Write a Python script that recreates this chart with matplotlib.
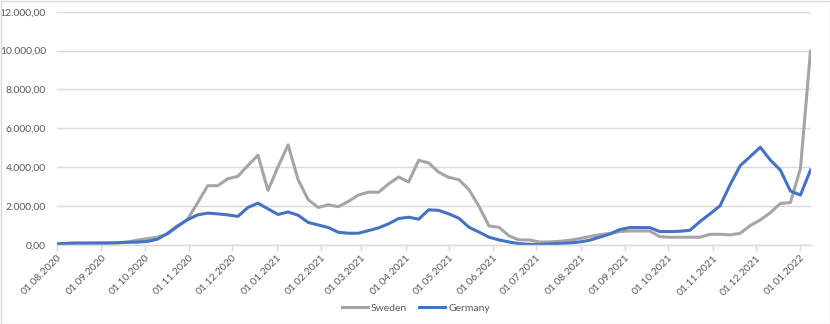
import matplotlib
matplotlib.use("Agg")
import matplotlib.pyplot as plt
import matplotlib.dates as mdates
from matplotlib.ticker import FuncFormatter, MultipleLocator
from matplotlib.patches import Rectangle
import pandas as pd

plt.rcParams['font.family'] = ['Lato', 'DejaVu Sans']

start_date = "2020-08-01"
n_weeks = 76

sweden = [50, 80, 90, 90, 100, 100, 120, 150, 250, 330,
          400, 560, 950, 1330, 2170, 3050, 3050, 3410, 3530, 4090,
          4620, 2810, 4020, 5150, 3360, 2330, 1930, 2070, 1970, 2240,
          2570, 2720, 2710, 3140, 3500, 3240, 4360, 4220, 3740, 3480,
          3360, 2850, 1990, 980, 910, 465, 260, 260, 155, 155,
          190, 240, 330, 430, 530, 590, 690, 720, 720, 720,
          430, 400, 400, 400, 400, 550, 550, 520, 600, 1000,
          1290, 1660, 2140, 2180, 3940, 9970]

germany = [50, 90, 100, 100, 100, 100, 110, 140, 150, 180,
           300, 600, 980, 1300, 1550, 1640, 1600, 1550, 1470, 1930,
           2150, 1860, 1570, 1700, 1530, 1160, 1030, 900, 655, 605,
           605, 740, 880, 1090, 1360, 1430, 1330, 1810, 1780, 1600,
           1380, 914, 665, 400, 260, 155, 70, 35, 20, 50,
           86, 105, 155, 240, 400, 560, 790, 896, 896, 896,
           690, 690, 707, 758, 1207, 1603, 2017, 3103, 4080, 4550,
           5030, 4370, 3855, 2775, 2570, 3855]

dates = pd.date_range(start_date, periods=n_weeks, freq="7D")

W, H = 830, 324
fig = plt.figure(figsize=(W / 100, H / 100), dpi=100)
ax = fig.add_axes([57 / W, 1 - 245 / H, (810.5 - 57) / W, (245 - 11.7) / H])

grey = "#A5A5A5"
blue = "#4472C4"
ax.plot(dates, sweden, color=grey, lw=2.2, label="Sweden", solid_joinstyle="round")
ax.plot(dates, germany, color=blue, lw=2.2, label="Germany", solid_joinstyle="round")

ax.set_ylim(0, 12000)
ax.set_xlim(dates[0], dates[-1])
ax.yaxis.set_major_locator(MultipleLocator(2000))


def de_fmt(v, pos):
    s = f"{v:,.2f}"
    return s.replace(",", "X").replace(".", ",").replace("X", ".")


ax.yaxis.set_major_formatter(FuncFormatter(de_fmt))
ax.grid(axis="y", color="#d9d9d9", lw=1)
ax.set_axisbelow(True)

ax.xaxis.set_major_locator(mdates.MonthLocator())
ax.xaxis.set_major_formatter(mdates.DateFormatter("%d.%m.%Y"))
for lbl in ax.get_xticklabels():
    lbl.set_rotation(45)
    lbl.set_ha("right")
    lbl.set_rotation_mode("anchor")

for s in ["top", "right", "left"]:
    ax.spines[s].set_visible(False)
ax.spines["bottom"].set_color("#d9d9d9")
ax.spines["bottom"].set_linewidth(1)
ax.tick_params(axis="x", colors="#595959", labelsize=7.5, length=4, width=1,
               color="#d9d9d9", pad=2)
ax.tick_params(axis="y", colors="#595959", labelsize=7.5, length=0, pad=8)

leg = fig.legend(loc="center", bbox_to_anchor=(416 / W, 1 - 308 / H), ncol=2,
                 frameon=False, fontsize=7.5, handlelength=2.5, columnspacing=1.2,
                 handletextpad=0.3)
for t in leg.get_texts():
    t.set_color("#595959")

fig.add_artist(Rectangle((0.5 / W, 0.5 / H), 1 - 1 / W, 1 - 1 / H,
                         transform=fig.transFigure, fill=False,
                         edgecolor="#d9d9d9", lw=1))

fig.savefig("out.png", dpi=100)
